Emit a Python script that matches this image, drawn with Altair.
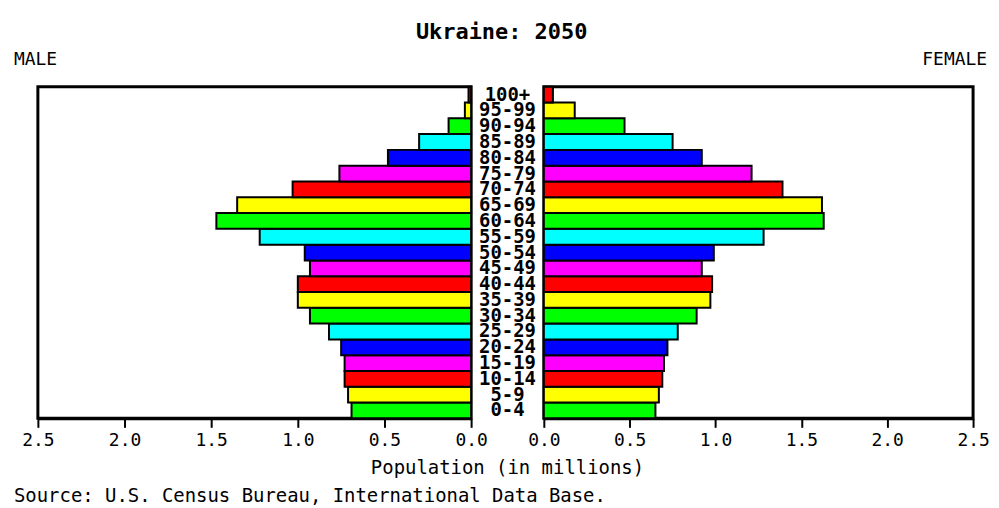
import altair as alt
import pandas as pd

ages = ["0-4", "5-9", "10-14", "15-19", "20-24", "25-29", "30-34", "35-39",
        "40-44", "45-49", "50-54", "55-59", "60-64", "65-69", "70-74",
        "75-79", "80-84", "85-89", "90-94", "95-99", "100+"]
male = [0.69, 0.71, 0.73, 0.73, 0.75, 0.82, 0.93, 1.00, 1.00, 0.93, 0.96,
        1.22, 1.47, 1.35, 1.03, 0.76, 0.48, 0.30, 0.13, 0.036, 0.015]
female = [0.65, 0.67, 0.69, 0.70, 0.72, 0.78, 0.89, 0.97, 0.98, 0.92, 0.99,
          1.28, 1.63, 1.62, 1.39, 1.21, 0.92, 0.75, 0.47, 0.18, 0.053]
palette = ["#00FF00", "#FFFF00", "#FF0000", "#FF00FF", "#0000FF", "#00FFFF"]
tick_values = [0.0, 0.5, 1.0, 1.5, 2.0, 2.5]

df = pd.DataFrame({"age": ages, "male": male, "female": female})
order = list(reversed(ages))
colors = [palette[i % 6] for i in range(len(ages))]

FONT = "DejaVu Sans Mono"
H = 333
WL, WM, WR = 435, 73, 431

y_enc = alt.Y("age:N", sort=order, axis=None,
              scale=alt.Scale(paddingInner=0, paddingOuter=0))
color_enc = alt.Color("age:N", scale=alt.Scale(domain=ages, range=colors), legend=None)


def x_axis():
    return alt.Axis(values=tick_values, format=".1f", title=None, grid=False,
                    tickSize=9, tickWidth=2, domainWidth=3, domainColor="black",
                    tickColor="black", labelColor="black", labelFont=FONT,
                    labelFontSize=18, labelPadding=4, labelFlush=False,
                    labelOverlap=False)


left_bars = alt.Chart(df).mark_bar(stroke="black", strokeWidth=2).encode(
    x=alt.X("male:Q", scale=alt.Scale(domain=[0, 2.5], reverse=True, nice=False),
            axis=x_axis()),
    y=y_enc,
    color=color_enc,
)
source = alt.Chart(pd.DataFrame({"t": ["Source: U.S. Census Bureau, International Data Base."]})).mark_text(
    align="left", baseline="middle", font=FONT, fontSize=19, color="black"
).encode(x=alt.value(-24), y=alt.value(H + 78), text="t:N")

left = alt.layer(left_bars, source).properties(
    width=WL, height=H,
    title=alt.TitleParams("MALE", anchor="start", frame="group", dx=-24, offset=17,
                          font=FONT, fontSize=18, fontWeight="normal", color="black"),
)

mid_labels = alt.Chart(df).mark_text(
    align="center", baseline="middle", font=FONT, fontSize=19, fontWeight="bold",
    color="black"
).encode(x=alt.value(WM / 2), y=y_enc, text="age:N")
mid_title = alt.Chart(pd.DataFrame({"t": ["Population (in millions)"]})).mark_text(
    align="center", baseline="middle", font=FONT, fontSize=19, color="black"
).encode(x=alt.value(WM / 2), y=alt.value(H + 50), text="t:N")
mid = alt.layer(mid_labels, mid_title).properties(
    width=WM, height=H, view=alt.ViewBackground(strokeOpacity=0)
)

right = alt.Chart(df).mark_bar(stroke="black", strokeWidth=2).encode(
    x=alt.X("female:Q", scale=alt.Scale(domain=[0, 2.5], nice=False), axis=x_axis()),
    y=y_enc,
    color=color_enc,
).properties(
    width=WR, height=H,
    title=alt.TitleParams("FEMALE", anchor="end", frame="group", dx=14, offset=17,
                          font=FONT, fontSize=18, fontWeight="normal", color="black"),
)

chart = alt.hconcat(left, mid, right, spacing=0, bounds="flush").resolve_scale(
    x="independent", color="shared"
).properties(
    title=alt.TitleParams("Ukraine: 2050", anchor="middle", font=FONT, fontSize=22,
                          fontWeight="bold", color="black", offset=5),
    padding={"left": 4, "top": 12, "right": 0, "bottom": 4},
).configure(background="white").configure_view(stroke="black", strokeWidth=3)

chart.save("out.html", embed_options={"renderer": "svg", "actions": False})
